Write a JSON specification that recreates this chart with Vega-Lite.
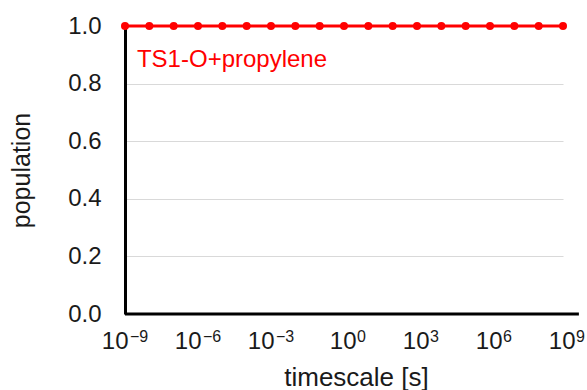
{
  "$schema": "https://vega.github.io/schema/vega-lite/v6.json",
  "width": 438,
  "height": 288,
  "autosize": {"type": "none"},
  "padding": {"left": 125, "top": 26, "right": 24, "bottom": 76},
  "background": "white",
  "config": {
    "view": {"stroke": null},
    "font": "Liberation Sans"
  },
  "datasets": {
    "series": [
      {"t": 1e-9, "population": 1},
      {"t": 1e-8, "population": 1},
      {"t": 1e-7, "population": 1},
      {"t": 1e-6, "population": 1},
      {"t": 1e-5, "population": 1},
      {"t": 1e-4, "population": 1},
      {"t": 1e-3, "population": 1},
      {"t": 1e-2, "population": 1},
      {"t": 1e-1, "population": 1},
      {"t": 1, "population": 1},
      {"t": 1e1, "population": 1},
      {"t": 1e2, "population": 1},
      {"t": 1e3, "population": 1},
      {"t": 1e4, "population": 1},
      {"t": 1e5, "population": 1},
      {"t": 1e6, "population": 1},
      {"t": 1e7, "population": 1},
      {"t": 1e8, "population": 1},
      {"t": 1e9, "population": 1}
    ],
    "labels": [
      {"t": 3.1e-9, "population": 0.858, "name": "TS1-O+propylene"}
    ],
    "baseline": [
      {"t": 1e-9, "t2": 4.5e9, "population": 0}
    ],
    "expNeg": [
      {"t": 1e-9, "population": 0, "exp": "−9"},
      {"t": 1e-6, "population": 0, "exp": "−6"},
      {"t": 1e-3, "population": 0, "exp": "−3"}
    ],
    "expPos": [
      {"t": 1, "population": 0, "exp": "0"},
      {"t": 1e3, "population": 0, "exp": "3"},
      {"t": 1e6, "population": 0, "exp": "6"},
      {"t": 1e9, "population": 0, "exp": "9"}
    ]
  },
  "layer": [
    {
      "data": {"name": "series"},
      "mark": {"type": "line", "color": "#ff0000", "strokeWidth": 3, "clip": false},
      "encoding": {
        "x": {
          "field": "t",
          "type": "quantitative",
          "scale": {"type": "log", "domain": [1e-9, 1e9], "nice": false},
          "axis": {
            "title": "timescale [s]",
            "titleFontSize": 26,
            "titleFontWeight": "normal",
            "titleColor": "#1a1a1a",
            "titleX": 231,
            "titleY": 71,
            "titleAlign": "center",
            "titleBaseline": "alphabetic",
            "values": [1e-9, 1e-6, 1e-3, 1, 1e3, 1e6, 1e9],
            "labelExpr": "'10'",
            "labelFontSize": 24,
            "labelColor": "#1a1a1a",
            "labelAlign": "right",
            "labelBaseline": "alphabetic",
            "labelOffset": {"condition": {"test": "datum.value < 0.5", "value": 3}, "value": 12},
            "labelPadding": 34,
            "labelFlush": false,
            "labelOverlap": false,
            "ticks": false,
            "grid": false,
            "domain": false
          }
        },
        "y": {
          "field": "population",
          "type": "quantitative",
          "scale": {"domain": [0, 1], "nice": false},
          "axis": {
            "title": "population",
            "titleFontSize": 25,
            "titleFontWeight": "normal",
            "titleColor": "#1a1a1a",
            "titlePadding": 33,
            "values": [0, 0.2, 0.4, 0.6, 0.8, 1.0],
            "format": ".1f",
            "labelFontSize": 24,
            "labelColor": "#1a1a1a",
            "labelPadding": 24,
            "ticks": false,
            "grid": true,
            "gridColor": "#d9d9d9",
            "gridWidth": 1,
            "domain": true,
            "domainColor": "#000000",
            "domainWidth": 3
          }
        }
      }
    },
    {
      "data": {"name": "baseline"},
      "mark": {"type": "rule", "color": "#000000", "strokeWidth": 3, "clip": false},
      "encoding": {
        "x": {"field": "t", "type": "quantitative"},
        "x2": {"field": "t2"},
        "y": {"field": "population", "type": "quantitative"}
      }
    },
    {
      "data": {"name": "series"},
      "mark": {"type": "point", "filled": true, "color": "#ff0000", "size": 64, "opacity": 1, "clip": false},
      "encoding": {
        "x": {"field": "t", "type": "quantitative"},
        "y": {"field": "population", "type": "quantitative"}
      }
    },
    {
      "data": {"name": "labels"},
      "mark": {"type": "text", "color": "#ff0000", "fontSize": 24, "align": "left", "baseline": "alphabetic"},
      "encoding": {
        "x": {"field": "t", "type": "quantitative"},
        "y": {"field": "population", "type": "quantitative"},
        "text": {"field": "name"}
      }
    },
    {
      "data": {"name": "expNeg"},
      "mark": {"type": "text", "color": "#1a1a1a", "fontSize": 16, "align": "left", "baseline": "alphabetic", "dx": 5, "dy": 28, "clip": false},
      "encoding": {
        "x": {"field": "t", "type": "quantitative"},
        "y": {"field": "population", "type": "quantitative"},
        "text": {"field": "exp"}
      }
    },
    {
      "data": {"name": "expPos"},
      "mark": {"type": "text", "color": "#1a1a1a", "fontSize": 16, "align": "left", "baseline": "alphabetic", "dx": 13, "dy": 28, "clip": false},
      "encoding": {
        "x": {"field": "t", "type": "quantitative"},
        "y": {"field": "population", "type": "quantitative"},
        "text": {"field": "exp"}
      }
    }
  ]
}
